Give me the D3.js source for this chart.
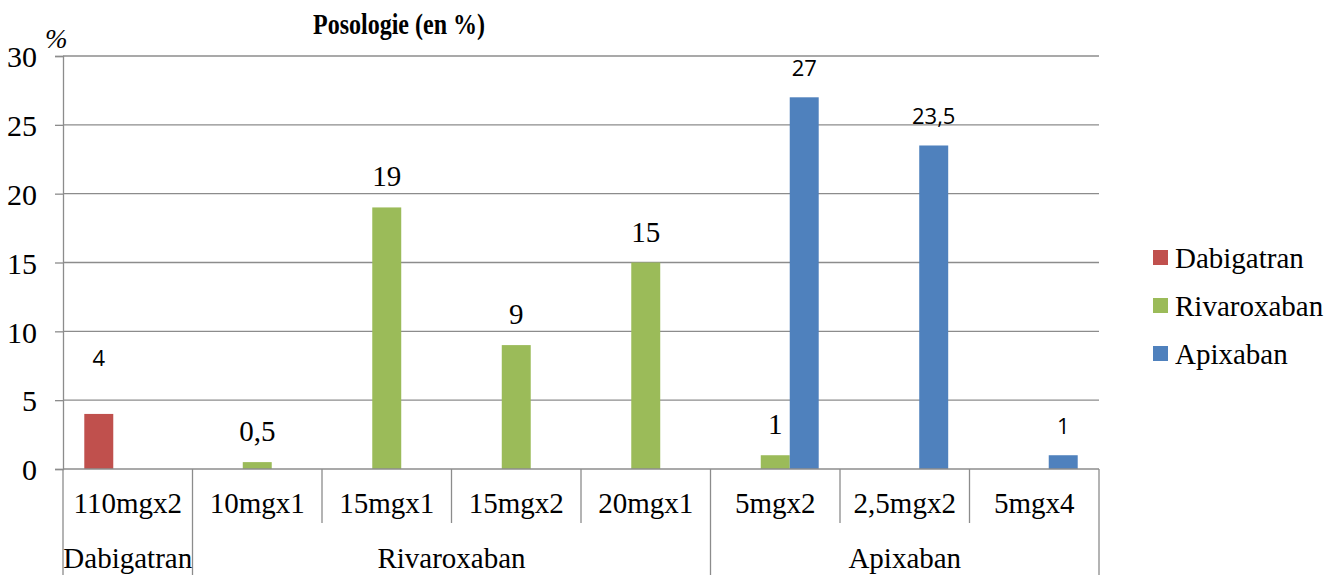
<!DOCTYPE html>
<html>
<head>
<meta charset="utf-8">
<script src="https://cdn.jsdelivr.net/npm/d3@7"></script>
<style>
  body { margin: 0; background: #fff; }
  text { fill: #000; }
  .serif { font-family: "Liberation Serif", "Times New Roman", serif; }
  .sans { font-family: "Open Sans", "Liberation Sans", sans-serif; }
</style>
</head>
<body>
<svg id="chart" width="1336" height="575"></svg>
<script>
// data
var doses = ["110mgx2", "10mgx1", "15mgx1", "15mgx2", "20mgx1", "5mgx2", "2,5mgx2", "5mgx4"];
var doseDrug = ["Dabigatran", "Rivaroxaban", "Rivaroxaban", "Rivaroxaban", "Rivaroxaban", "Apixaban", "Apixaban", "Apixaban"];
var seriesNames = ["Dabigatran", "Rivaroxaban", "Apixaban"];
var dabigatranValues = [4, null, null, null, null, null, null, null];
var rivaroxabanValues = [null, 0.5, 19, 9, 15, 1, null, null];
var apixabanValues = [null, null, null, null, null, 27, 23.5, 1];
var yTicks = [0, 5, 10, 15, 20, 25, 30];
var colors = ["#C0504D", "#9BBB59", "#4F81BD"];

(function () {
  var svg = d3.select("#chart");
  var plotLeft = 63, plotRight = 1099, plotTop = 56, plotBottom = 469;

  var x0 = d3.scaleBand().domain(doses).range([plotLeft, plotRight]).paddingInner(0).paddingOuter(0);
  var x1 = d3.scaleBand().domain(seriesNames).range([0, x0.bandwidth()]).paddingInner(0).paddingOuter(0.735);
  var y = d3.scaleLinear().domain([0, 30]).range([plotBottom, plotTop]);
  var color = d3.scaleOrdinal().domain(seriesNames).range(colors);

  // gridlines
  svg.append("g").selectAll("line").data(yTicks.slice(1)).enter().append("line")
    .attr("x1", plotLeft).attr("x2", plotRight)
    .attr("y1", function (d) { return y(d); }).attr("y2", function (d) { return y(d); })
    .attr("stroke", "#8c8c8c").attr("stroke-width", 1.3);

  // y axis
  var yAxis = svg.append("g").attr("transform", "translate(" + plotLeft + ",0)")
    .call(d3.axisLeft(y).tickValues(yTicks).tickSize(8).tickPadding(18));
  yAxis.attr("font-family", null).attr("font-size", null);
  yAxis.select(".domain").attr("stroke", "#8c8c8c").attr("stroke-width", 1.3);
  yAxis.selectAll(".tick line").attr("stroke", "#8c8c8c").attr("stroke-width", 1.3);
  yAxis.selectAll("text").attr("class", "serif").style("font-size", "30px").attr("fill", "#000")
    .attr("dy", "0.36em");

  // bars
  var rows = [];
  [dabigatranValues, rivaroxabanValues, apixabanValues].forEach(function (vals, si) {
    vals.forEach(function (v, i) {
      if (v !== null) rows.push({dose: doses[i], series: seriesNames[si], value: v});
    });
  });

  svg.append("g").selectAll("rect").data(rows).enter().append("rect")
    .attr("x", function (d) { return x0(d.dose) + x1(d.series); })
    .attr("width", x1.bandwidth())
    .attr("y", function (d) { return y(d.value); })
    .attr("height", function (d) { return y(0) - y(d.value); })
    .attr("fill", function (d) { return color(d.series); });

  // value labels: Rivaroxaban in serif, others in sans as in the source
  svg.append("g").selectAll("text").data(rows).enter().append("text")
    .attr("x", function (d) { return x0(d.dose) + x1(d.series) + x1.bandwidth() / 2; })
    .attr("y", function (d) { return y(d.value) - (d.series === "Dabigatran" ? 48 : 21); })
    .attr("text-anchor", "middle")
    .attr("class", function (d) { return d.series === "Rivaroxaban" ? "serif" : "sans"; })
    .style("font-size", function (d) { return d.series === "Rivaroxaban" ? "29px" : "22px"; })
    .text(function (d) { return String(d.value).replace(".", ","); });

  // x axis baseline
  svg.append("line").attr("x1", plotLeft).attr("x2", plotRight).attr("y1", plotBottom).attr("y2", plotBottom)
    .attr("stroke", "#8c8c8c").attr("stroke-width", 1.3);

  // dose separators (first level), long ones between drugs
  var groupEdges = [];
  doses.forEach(function (d, i) {
    if (i === 0 || doseDrug[i] !== doseDrug[i - 1]) groupEdges.push(i);
  });
  var sepX = doses.map(function (d) { return x0(d); }).concat([plotRight]);
  svg.append("g").selectAll("line").data(sepX).enter().append("line")
    .attr("x1", function (d) { return d; }).attr("x2", function (d) { return d; })
    .attr("y1", plotBottom)
    .attr("y2", function (d, i) { return (groupEdges.indexOf(i) >= 0 || i === doses.length) ? 575 : 523; })
    .attr("stroke", "#8c8c8c").attr("stroke-width", 1.3);

  svg.append("g").selectAll("text").data(doses).enter().append("text")
    .attr("x", function (d) { return x0(d) + x0.bandwidth() / 2; })
    .attr("y", 513)
    .attr("text-anchor", "middle")
    .attr("class", "serif").style("font-size", "29px")
    .text(function (d) { return d; });

  // drug groups (second level)
  var groups = groupEdges.map(function (start, k) {
    var end = k + 1 < groupEdges.length ? groupEdges[k + 1] : doses.length;
    return {name: doseDrug[start], x: (sepX[start] + sepX[end]) / 2};
  });
  svg.append("g").selectAll("text").data(groups).enter().append("text")
    .attr("x", function (d) { return d.x; })
    .attr("y", 568)
    .attr("text-anchor", "middle")
    .attr("class", "serif").style("font-size", "29px")
    .text(function (d) { return d.name; });

  // title
  svg.append("text").attr("x", 399).attr("y", 34).attr("text-anchor", "middle")
    .attr("class", "serif").style("font-weight", "bold").style("font-size", "30px")
    .attr("textLength", 172).attr("lengthAdjust", "spacingAndGlyphs")
    .text("Posologie (en %)");

  // unit
  svg.append("text").attr("x", 45).attr("y", 48)
    .attr("class", "serif").style("font-style", "italic").style("font-size", "27px")
    .text("%");

  // legend
  var legend = svg.append("g").selectAll("g").data(seriesNames).enter().append("g")
    .attr("transform", function (d, i) { return "translate(1153," + (250 + i * 48) + ")"; });
  legend.append("rect").attr("width", 15).attr("height", 15)
    .attr("fill", function (d) { return color(d); });
  legend.append("text").attr("x", 22).attr("y", 18)
    .attr("class", "serif").style("font-size", "29px")
    .text(function (d) { return d; });
})();
</script>
</body>
</html>
